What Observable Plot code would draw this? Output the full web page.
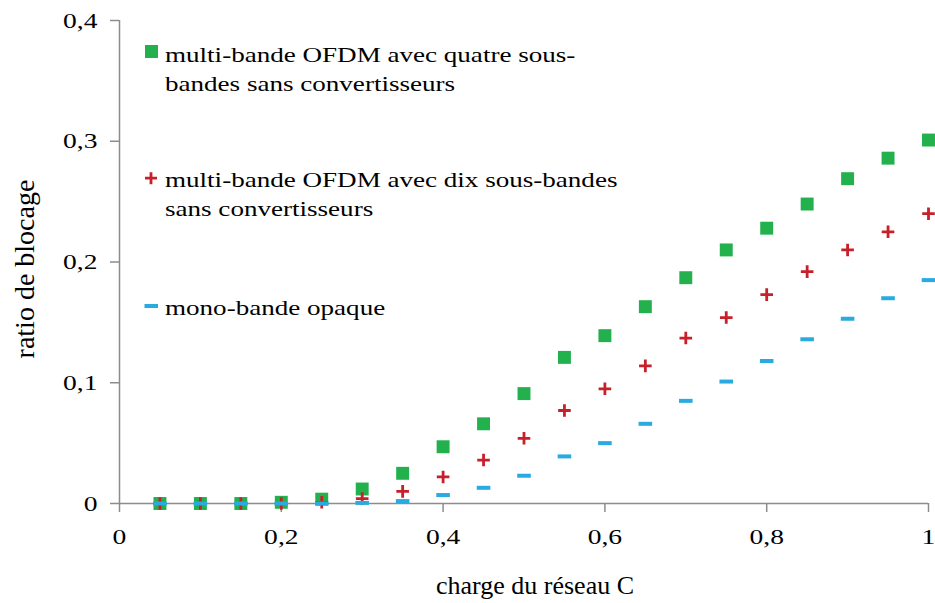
<!DOCTYPE html>
<html>
<head>
<meta charset="utf-8">
<script src="https://cdn.jsdelivr.net/npm/d3@7"></script>
<script src="https://cdn.jsdelivr.net/npm/@observablehq/plot@0.6"></script>
<style>
  body { margin: 0; background: white; }
  #wrap { position: relative; width: 935px; height: 603px; font-family: "Liberation Serif", "Times New Roman", serif; }
  #legend { position: absolute; left: 141px; top: 0; font-size: 22px; line-height: 29px; color: #000; }
  .item { position: absolute; left: 0; white-space: nowrap; }
  .item svg { position: absolute; left: 0; top: 0; overflow: visible; }
  .item .txt { position: absolute; left: 24px; top: 0; transform: scaleX(1.23); transform-origin: left top; }
</style>
</head>
<body>
<div id="wrap"></div>
<script>
// ---- data ----
const charge = [0.05,0.10,0.15,0.20,0.25,0.30,0.35,0.40,0.45,0.50,0.55,0.60,0.65,0.70,0.75,0.80,0.85,0.90,0.95,1.00];
const quatre = [0,0,0,0.001,0.0036,0.012,0.025,0.047,0.066,0.091,0.121,0.139,0.163,0.187,0.210,0.228,0.248,0.269,0.286,0.301];
const dix    = [0,0,0,0,0.001,0.004,0.010,0.022,0.036,0.054,0.077,0.095,0.114,0.137,0.154,0.173,0.192,0.210,0.225,0.240];
const mono   = [0,0,0,0,0,0.0005,0.002,0.007,0.013,0.023,0.039,0.050,0.066,0.085,0.101,0.118,0.136,0.153,0.170,0.185];
const xTicks = [0,0.2,0.4,0.6,0.8,1];
const yTicks = [0,0.1,0.2,0.3,0.4];
const xTitle = "charge du réseau C";
const yTitle = "ratio de blocage";
const seriesNames = [
  "multi-bande OFDM avec quatre sous-<br>bandes sans convertisseurs",
  "multi-bande OFDM avec dix sous-bandes<br>sans convertisseurs",
  "mono-bande opaque"
];
const colors = ["#22b14c", "#c8202a", "#29abe2"];

const fmt = d => String(d).replace(".", ",");
const rows = (ys) => charge.map((c, i) => ({c, v: ys[i]}));

const plusSym = { draw(ctx, size) { const r = Math.sqrt(size / Math.PI); ctx.moveTo(-r, 0); ctx.lineTo(r, 0); ctx.moveTo(0, -r); ctx.lineTo(0, r); } };
const dashSym = { draw(ctx, size) { const r = Math.sqrt(size / Math.PI); ctx.moveTo(-r, 0); ctx.lineTo(r, 0); } };

const chart = Plot.plot({
  width: 935, height: 603,
  marginLeft: 119, marginRight: 7, marginTop: 20, marginBottom: 100,
  style: { fontFamily: "Liberation Serif", fontSize: "22px", color: "black", background: "white" },
  x: { domain: [0, 1] },
  y: { domain: [0, 0.4] },
  marks: [
    Plot.ruleY([0], { stroke: "#8c8c8c", strokeWidth: 1.5 }),
    Plot.ruleX([0], { stroke: "#8c8c8c", strokeWidth: 1.5 }),
    Plot.axisX({ ticks: xTicks, tickFormat: fmt, tickSize: 9, tickPadding: 16, stroke: "#8c8c8c", strokeWidth: 1.5, fill: "black", label: null }),
    Plot.axisY({ ticks: yTicks, tickFormat: fmt, tickSize: 9, tickPadding: 13, stroke: "#8c8c8c", strokeWidth: 1.5, fill: "black", label: null }),
    Plot.text([xTitle], { frameAnchor: "bottom", lineAnchor: "middle", textAnchor: "middle", dx: 11, dy: 82, fontSize: 26, fill: "black", ariaLabel: "xtitle" }),
    Plot.text([yTitle], { frameAnchor: "left", lineAnchor: "middle", textAnchor: "middle", rotate: -90, dx: -94, dy: 7, fontSize: 28, fill: "black", ariaLabel: "ytitle" }),
    Plot.dot(rows(quatre), { x: "c", y: "v", symbol: "square", r: 7.3, fill: colors[0], stroke: null }),
    Plot.dot(rows(dix), { x: "c", y: "v", symbol: plusSym, r: 6.3, fill: "none", stroke: colors[1], strokeWidth: 2.8 }),
    Plot.dot(rows(mono), { x: "c", y: "v", symbol: dashSym, r: 6.8, fill: "none", stroke: colors[2], strokeWidth: 4 })
  ]
});

const wrap = document.getElementById("wrap");
wrap.appendChild(chart);

// widen glyphs horizontally like the reference rendering
const svg = d3.select(chart);
svg.selectAll('g[aria-label="xtitle"] text')
  .style("transform-box", "fill-box").style("transform-origin", "center")
  .style("transform", "scaleX(1.2)");
svg.selectAll('g[aria-label="x-axis tick label"] text, g[aria-label="y-axis tick label"] text')
  .each(function () {
    const w = this.getComputedTextLength();
    this.setAttribute("textLength", (w * 1.25).toFixed(1));
    this.setAttribute("lengthAdjust", "spacingAndGlyphs");
  });

// legend (HTML overlay in the upper-left of the plot area)
const legend = document.createElement("div");
legend.id = "legend";
const tops = [40, 165, 293];
const markers = [
  `<svg width="20" height="29"><rect x="4" y="5" width="13" height="13" fill="${colors[0]}"/></svg>`,
  `<svg width="20" height="29"><path d="M4,13.2H16M10,7.2V19.2" stroke="${colors[1]}" stroke-width="2.8" fill="none"/></svg>`,
  `<svg width="20" height="29"><path d="M3.5,13H17" stroke="${colors[2]}" stroke-width="4" fill="none"/></svg>`
];
seriesNames.forEach((name, i) => {
  const it = document.createElement("div");
  it.className = "item";
  it.style.top = tops[i] + "px";
  it.innerHTML = markers[i] + `<div class="txt">${name}</div>`;
  legend.appendChild(it);
});
wrap.appendChild(legend);
</script>
</body>
</html>
